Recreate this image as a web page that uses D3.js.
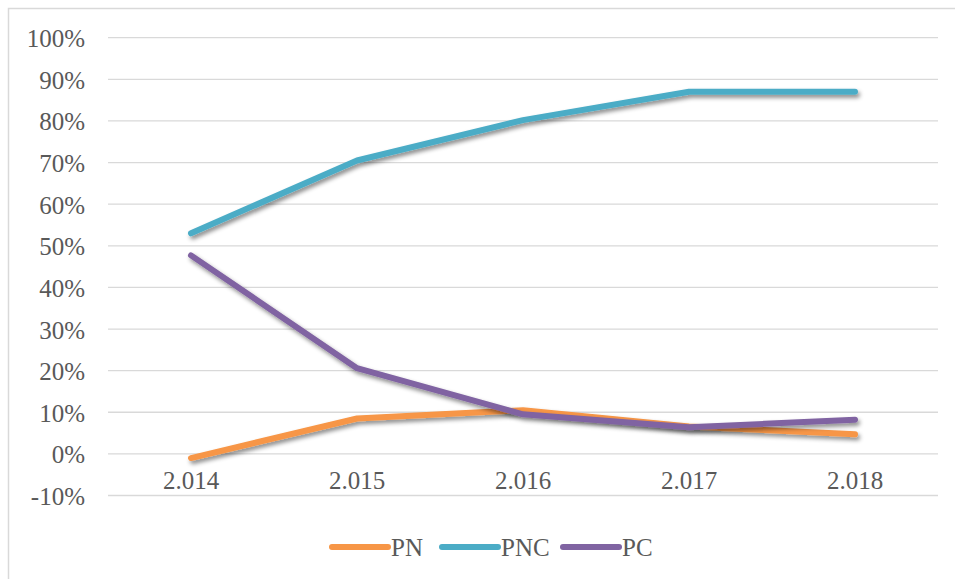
<!DOCTYPE html>
<meta charset='utf-8'>
<style>
    html, body {
        margin: 0;
        background: white;
    }

    .axis text, .legend text {
        fill: #595959;
        font-family: 'Liberation Serif', serif;
        font-size: 25px;
    }

    .grid line {
        stroke: #d9d9d9;
        stroke-width: 1.3;
    }
</style>
<title>PN / PNC / PC</title>
<body>

<script src='https://d3js.org/d3.v7.min.js'></script>
<script>

	// data
	let years = ['2.014', '2.015', '2.016', '2.017', '2.018'];
	let seriesNames = ['PN', 'PNC', 'PC'];
	let colors = ['#F79646', '#4BACC6', '#8064A2'];
	let pn  = [-0.010, 0.085, 0.105, 0.066, 0.047];
	let pnc = [0.530, 0.705, 0.802, 0.870, 0.870];
	let pc  = [0.477, 0.206, 0.095, 0.064, 0.082];
	let yTicks = [-0.1, 0, 0.1, 0.2, 0.3, 0.4, 0.5, 0.6, 0.7, 0.8, 0.9, 1.0];

	let series = [pn, pnc, pc];

	let W = 955, H = 579;
	let plotLeft = 108, plotRight = 938, plotTop = 37.7, plotBottom = 495.5;

	let svg = d3.select('body').append('svg')
		.attr('width', W)
		.attr('height', H);

	let defs = svg.append('defs');
	defs.append('filter')
		.attr('id', 'shadow')
		.attr('x', '-20%').attr('y', '-20%')
		.attr('width', '140%').attr('height', '160%')
		.append('feDropShadow')
		.attr('dx', 2).attr('dy', 3)
		.attr('stdDeviation', 2)
		.attr('flood-color', '#000')
		.attr('flood-opacity', 0.45);

	// chart frame (only top and left edges are inside the picture)
	svg.append('rect')
		.attr('x', 8.5).attr('y', 8.5)
		.attr('width', 1000).attr('height', 600)
		.attr('fill', 'none')
		.attr('stroke', '#d9d9d9')
		.attr('stroke-width', 1.5);

	let x = d3.scaleBand()
		.domain(years)
		.range([plotLeft, plotRight]);

	let y = d3.scaleLinear()
		.domain([-0.1, 1.0])
		.range([plotBottom, plotTop]);

	// gridlines
	svg.append('g')
		.attr('class', 'grid')
		.selectAll('line')
		.data(yTicks)
		.enter().append('line')
		.attr('x1', plotLeft).attr('x2', plotRight)
		.attr('y1', function (d) { return y(d); })
		.attr('y2', function (d) { return y(d); });

	// y axis labels
	let yAxis = svg.append('g')
		.attr('class', 'axis')
		.attr('transform', 'translate(' + (plotLeft - 2) + ',0)')
		.call(d3.axisLeft(y).tickValues(yTicks).tickSize(0).tickPadding(21)
			.tickFormat(function (d) { return Math.round(d * 100) + '%'; }));
	yAxis.select('.domain').remove();
	yAxis.selectAll('text').attr('dy', '0.36em');

	// x axis labels, sitting under the 0% line
	let xAxis = svg.append('g')
		.attr('class', 'axis')
		.attr('transform', 'translate(0,' + y(0) + ')')
		.call(d3.axisBottom(x).tickSize(0).tickPadding(17));
	xAxis.select('.domain').remove();

	let line = d3.line()
		.x(function (d, i) { return x(years[i]) + x.bandwidth() / 2; })
		.y(function (d) { return y(d); });

	svg.append('g')
		.selectAll('path')
		.data(series)
		.enter().append('path')
		.attr('d', line)
		.attr('fill', 'none')
		.attr('stroke', function (d, i) { return colors[i]; })
		.attr('stroke-width', 6)
		.attr('stroke-linecap', 'round')
		.attr('stroke-linejoin', 'round')
		.attr('filter', 'url(#shadow)');

	// legend
	let legendX = [332, 442, 563];
	let legend = svg.append('g')
		.attr('class', 'legend')
		.selectAll('g')
		.data(seriesNames)
		.enter().append('g')
		.attr('transform', function (d, i) { return 'translate(' + legendX[i] + ',547)'; });

	legend.append('line')
		.attr('x1', 0).attr('x2', 56)
		.attr('y1', 0).attr('y2', 0)
		.attr('stroke', function (d, i) { return colors[i]; })
		.attr('stroke-width', 6)
		.attr('stroke-linecap', 'round');

	legend.append('text')
		.attr('x', 59)
		.attr('y', 8.5)
		.text(function (d) { return d; });

</script>
</body>
